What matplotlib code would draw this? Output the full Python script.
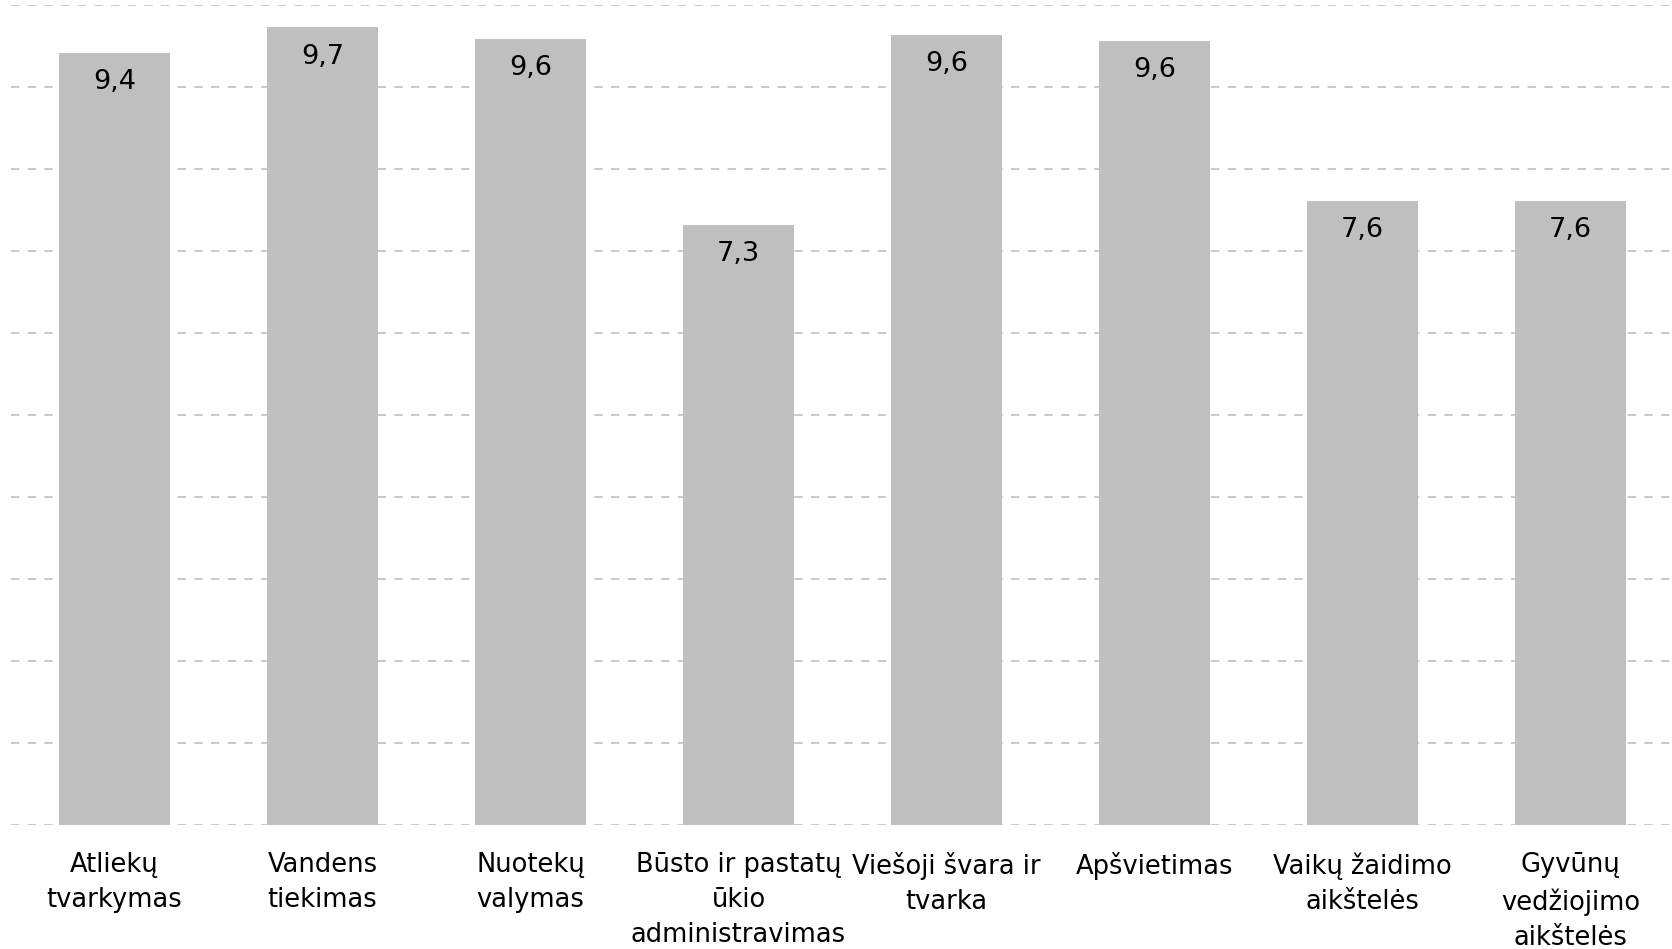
import numpy as np
import matplotlib.pyplot as plt

categories = ["Atliekų\ntvarkymas", "Vandens\ntiekimas", "Nuotekų\nvalymas",
              "Būsto ir pastatų\nūkio\nadministravimas", "Viešoji švara ir\ntvarka",
              "Apšvietimas", "Vaikų žaidimo\naikštelės", "Gyvūnų\nvedžiojimo\naikštelės"]
values = [9.42, 9.73, 9.59, 7.32, 9.64, 9.56, 7.61, 7.61]
labels = ["9,4", "9,7", "9,6", "7,3", "9,6", "9,6", "7,6", "7,6"]

plt.rcParams['font.family'] = ['DejaVu Sans']

fig = plt.figure(figsize=(16.72, 9.49), dpi=100)
ax = fig.add_axes([10.5 / 1672, 1 - 824.7 / 949, 1664 / 1672, 819.4 / 949])

x = np.arange(len(categories))
ax.bar(x, values, width=0.534, color="#bfbfbf", zorder=2)

for xi, v, lab in zip(x, values, labels):
    ax.annotate(lab, (xi, v), xytext=(0, -26), textcoords="offset points",
                ha="center", va="baseline", fontsize=19.5, color="black", zorder=3)

ax.set_xlim(-0.5, len(categories) - 0.5)
ax.set_ylim(0, 10)
ax.set_yticks(np.arange(0, 11, 1))
ax.yaxis.grid(True, color="#bfbfbf", linestyle=(0, (5, 5)), linewidth=1.2, zorder=0)
ax.set_yticklabels([])
ax.tick_params(axis="y", length=0)

ax.set_xticks(x)
ax.set_xticklabels(categories, fontsize=18.5, linespacing=1.45)
ax.tick_params(axis="x", length=0, pad=20)

for s in ax.spines.values():
    s.set_visible(False)

fig.savefig("out.png", dpi=100)
